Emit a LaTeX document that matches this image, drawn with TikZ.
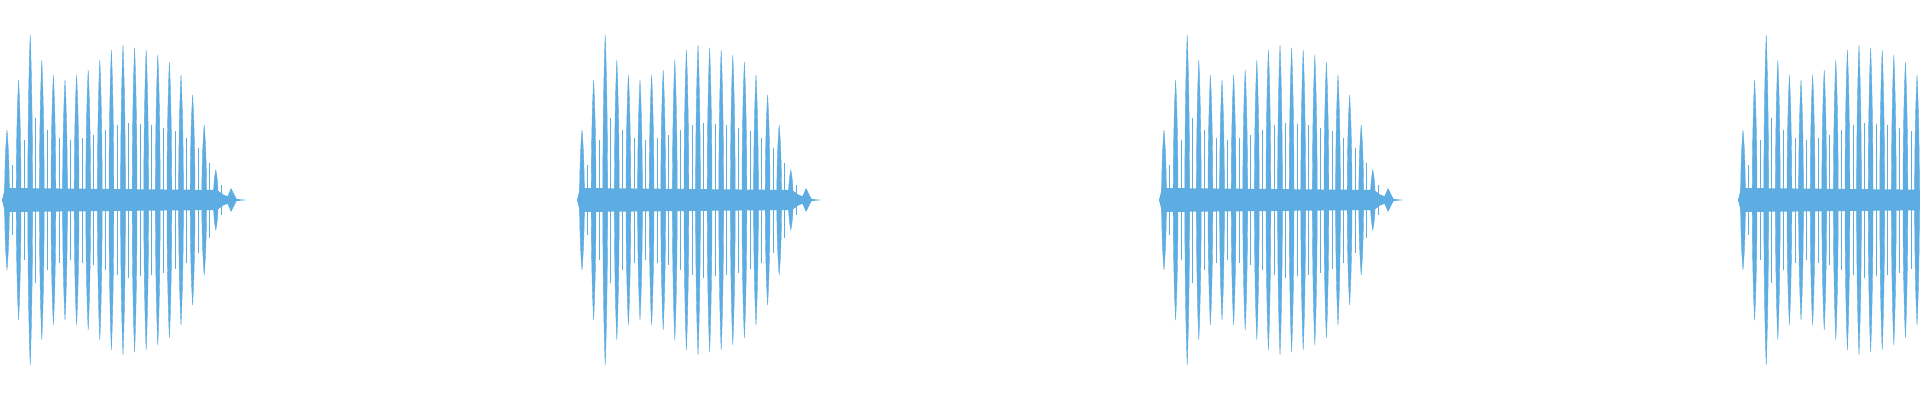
\documentclass[tikz,border=0pt]{standalone}
\definecolor{wave}{HTML}{5DADE2}
\begin{document}
\begin{tikzpicture}[x=1pt,y=1pt,pulse/.style={fill=wave,draw=wave,line width=0.4pt}]
\useasboundingbox (0,0) rectangle (1920,400);
\foreach \bx/\sh in {2/0,577/1,1159/2,1738/3}{
  % base band
  \fill[wave] (\bx,200) -- (\bx+3,212) -- (\bx+215,210) -- (\bx+222,205) -- (\bx+235,201) -- (\bx+245,200) -- (\bx+235,199) -- (\bx+222,195) -- (\bx+215,190) -- (\bx+3,188) -- cycle;
  \foreach \a [count=\i] in {70,120,165,140,125,120,125,130,140,150,155,152,150,145,138,125,105,75,30}{
    \pgfmathsetmacro{\px}{\bx+5+(\i-1)*11.6}
    \fill[pulse] (\px,200+\a) .. controls (\px+3.2,200+0.5*\a) and (\px+3.2,200-0.5*\a) .. (\px,200-\a) .. controls (\px-3.2,200-0.5*\a) and (\px-3.2,200+0.5*\a) .. cycle;
    \draw[wave,line width=0.5pt] (\px+5.5,200+0.5*\a) -- (\px+5.5,200-0.5*\a);
  }
  \fill[wave] (\bx+224,200) -- (\bx+229,212) -- (\bx+235,200) -- (\bx+229,188) -- cycle;
}
\end{tikzpicture}
\end{document}
